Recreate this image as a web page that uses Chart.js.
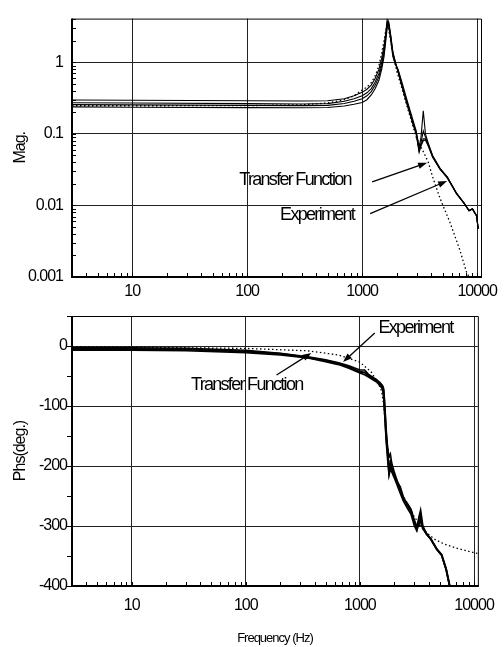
<!DOCTYPE html>
<html>
<head>
<meta charset="utf-8">
<script src="https://cdn.jsdelivr.net/npm/chart.js@4/dist/chart.umd.min.js"></script>
<style>
  html, body { margin: 0; padding: 0; background: #fff; }
  body { width: 504px; height: 647px; position: relative; overflow: hidden; }
  .box { position: absolute; left: 0; }
</style>
</head>
<body>
<div class="box" style="top:0"><canvas id="magChart" width="504" height="300"></canvas></div>
<div class="box" style="top:300px"><canvas id="phsChart" width="504" height="347"></canvas></div>
<script>
// Bode plot: magnitude (top) and phase (bottom), experiment vs transfer function

const FONT = "'Liberation Sans', Arial, sans-serif";

// tick labels
const freqTicks = [10, 100, 1000, 10000];
const magTicks = [0.001, 0.01, 0.1, 1];
const phsTicks = [-400, -300, -200, -100, 0];

// magnitude, experiment (four runs share the same frequencies)
const magFreq = [3, 10, 100, 300, 500, 700, 850, 1000, 1100, 1200, 1300, 1400, 1480, 1550, 1600, 1650, 1700, 1760, 1850, 1950,
    2050, 2200, 2450, 2750, 2950, 3130, 3250, 3400, 3550, 3750, 4100, 4750, 5500, 6600, 7700, 8500, 9100, 9500, 9900, 10200];
const magExp1 = [0.298, 0.295, 0.29, 0.288, 0.29, 0.31, 0.34, 0.38, 0.42, 0.48, 0.6, 0.8, 1.15, 1.7, 2.5, 3.9, 3.2, 2.2, 1.2, 0.92,
    0.8, 0.55, 0.3, 0.16, 0.11, 0.065, 0.09, 0.21, 0.1, 0.075, 0.05, 0.033, 0.025, 0.015, 0.0108, 0.0085, 0.009, 0.008, 0.0072, 0.0047];
const magExp2 = [0.272, 0.27, 0.265, 0.262, 0.265, 0.285, 0.31, 0.34, 0.375, 0.43, 0.53, 0.7, 1.0, 1.5, 2.3, 3.6, 3.4, 2.4, 1.3, 0.95,
    0.78, 0.52, 0.28, 0.15, 0.105, 0.06, 0.075, 0.11, 0.09, 0.072, 0.049, 0.033, 0.025, 0.0148, 0.0108, 0.0085, 0.009, 0.008, 0.0072, 0.0047];
const magExp3 = [0.256, 0.254, 0.25, 0.248, 0.25, 0.265, 0.285, 0.31, 0.34, 0.39, 0.48, 0.63, 0.9, 1.35, 2.1, 3.3, 3.5, 2.5, 1.35, 0.98,
    0.75, 0.5, 0.27, 0.145, 0.1, 0.058, 0.07, 0.085, 0.085, 0.07, 0.048, 0.032, 0.025, 0.0147, 0.0107, 0.0084, 0.0089, 0.0079, 0.0071, 0.0047];
const magExp4 = [0.238, 0.236, 0.233, 0.232, 0.234, 0.245, 0.26, 0.275, 0.3, 0.35, 0.43, 0.56, 0.8, 1.2, 1.9, 3.0, 3.7, 2.6, 1.4, 1.0,
    0.73, 0.48, 0.26, 0.14, 0.1, 0.055, 0.068, 0.08, 0.082, 0.068, 0.047, 0.032, 0.024, 0.0146, 0.0107, 0.0084, 0.0089, 0.0079, 0.0071, 0.0047];

// magnitude, transfer function
const tfMagFreq = [3, 10, 100, 300, 500, 700, 850, 1000, 1100, 1200, 1300, 1400, 1480, 1550, 1600, 1650, 1700, 1760, 1850, 2000,
    2200, 2500, 2950, 3530, 3760, 4100, 4760, 5800, 7000, 8180, 8600];
const tfMag = [0.247, 0.247, 0.248, 0.255, 0.27, 0.3, 0.34, 0.41, 0.45, 0.52, 0.65, 0.9, 1.35, 2.0, 2.7, 3.3, 2.9, 2.1, 1.3, 0.75,
    0.45, 0.22, 0.09, 0.05, 0.04, 0.025, 0.0125, 0.0058, 0.0025, 0.0011, 0.001];

// phase, experiment (three runs)
const phsFreq = [3, 10, 30, 100, 200, 350, 500, 650, 800, 1000, 1100, 1200, 1400, 1500, 1580, 1620, 1660, 1700, 1750, 1800, 1850,
    1900, 2000, 2100, 2250, 2400, 2600, 2800, 3000, 3150, 3300, 3400, 3550, 3800, 4200, 4700, 5200, 5700, 6200];
const phsExp1 = [-5, -5, -6, -9, -13, -19, -24, -29, -35, -43, -44, -50, -58, -63, -68, -80, -115, -150, -178, -210, -195,
    -205, -215, -225, -235, -252, -265, -275, -295, -305, -285, -275, -300, -312, -322, -338, -348, -372, -405];
const phsExp2 = [-3, -3, -4, -7, -12, -18, -23, -28, -33, -40, -40, -48, -56, -61, -66, -72, -105, -140, -170, -185, -180,
    -195, -210, -222, -240, -255, -262, -272, -290, -300, -300, -290, -305, -312, -322, -338, -348, -372, -405];
const phsExp3 = [-7, -7, -8, -11, -15, -20, -26, -31, -37, -45, -48, -52, -60, -66, -72, -90, -125, -160, -190, -215, -205,
    -210, -220, -230, -245, -258, -270, -280, -300, -308, -295, -285, -302, -313, -323, -339, -349, -373, -406];

// phase, transfer function
const tfPhsFreq = [3, 10, 100, 350, 650, 1000, 1250, 1430, 1550, 1620, 1700, 1800, 2000, 2300, 2610, 3000, 3500, 3880, 4500,
    5460, 7000, 9300, 10800];
const tfPhs = [-1, -2, -4, -8, -15, -27, -43, -60, -75, -100, -150, -185, -215, -245, -262, -285, -302, -312, -322,
    -330, -337, -343, -346];

// annotations (data coordinates)
const magNotes = [
    { text: 'Transfer Function', x: 261, y: 0.0227 },
    { text: 'Experiment', x: 406, y: 0.00745 }
];
const magArrows = [
    { from: [1222, 0.0213], to: [3670, 0.0395] },
    { from: [1174, 0.0077], to: [5480, 0.022] }
];
const phsNotes = [
    { text: 'Experiment', x: 3070, y: 30 },
    { text: 'Transfer Function', x: 102, y: -65 }
];
const phsArrows = [
    { from: [1349, 21.7], to: [711, -26.7] },
    { from: [186, -48.3], to: [375, -11.7] }
];

Chart.defaults.font.family = FONT;
Chart.defaults.color = '#000';

function pts(xs, ys) {
    return xs.map((x, i) => ({ x: x, y: ys[i] }));
}

function expLine(xs, ys, w) {
    return { data: pts(xs, ys), borderColor: '#000', borderWidth: w, pointRadius: 0, tension: 0 };
}

function tfLine(xs, ys) {
    return { data: pts(xs, ys), borderColor: '#000', borderWidth: 1.3, borderDash: [1.5, 2.5], pointRadius: 0, tension: 0 };
}

function logMinor(min, max) {
    const out = [];
    for (let d = -4; d <= 5; d++) {
        for (let m = 1; m <= 9; m++) {
            const v = m * Math.pow(10, d);
            if (v >= min && v <= max) out.push(v);
        }
    }
    return out;
}

function drawArrow(ctx, x1, y1, x2, y2) {
    const a = Math.atan2(y2 - y1, x2 - x1);
    const len = 9, hw = 3.2;
    ctx.beginPath();
    ctx.moveTo(x1, y1);
    ctx.lineTo(x2 - Math.cos(a) * len * 0.8, y2 - Math.sin(a) * len * 0.8);
    ctx.lineWidth = 1.3;
    ctx.strokeStyle = '#000';
    ctx.stroke();
    ctx.beginPath();
    ctx.moveTo(x2, y2);
    ctx.lineTo(x2 - Math.cos(a) * len - Math.sin(a) * hw, y2 - Math.sin(a) * len + Math.cos(a) * hw);
    ctx.lineTo(x2 - Math.cos(a) * len + Math.sin(a) * hw, y2 - Math.sin(a) * len - Math.cos(a) * hw);
    ctx.closePath();
    ctx.fillStyle = '#000';
    ctx.fill();
}

// condensed look for the library's own labels
const tightText = {
    id: 'tightText',
    beforeUpdate(chart) { chart.ctx.letterSpacing = '-1px'; },
    beforeDraw(chart) { chart.ctx.letterSpacing = '-1px'; }
};

// frame, inward/outward tick marks, notes and arrows
const framePlugin = {
    id: 'frame',
    afterDatasetsDraw(chart, args, opts) {
        const ctx = chart.ctx;
        const { left, right, top, bottom } = chart.chartArea;
        const xs = chart.scales.x, ys = chart.scales.y;
        ctx.save();
        ctx.strokeStyle = '#000';

        // x ticks, inward from bottom
        ctx.lineWidth = 1;
        ctx.beginPath();
        logMinor(xs.min, xs.max).forEach(v => {
            const px = Math.round(xs.getPixelForValue(v)) + 0.5;
            ctx.moveTo(px, bottom);
            ctx.lineTo(px, bottom - 4);
        });
        ctx.stroke();

        // y ticks
        ctx.beginPath();
        opts.yMinor.forEach(v => {
            const py = Math.round(ys.getPixelForValue(v)) + 0.5;
            if (opts.yOut) {
                ctx.moveTo(left, py);
                ctx.lineTo(left - 5, py);
            } else {
                ctx.moveTo(left, py);
                ctx.lineTo(left + 4, py);
            }
        });
        ctx.stroke();

        // frame: heavy left/bottom, light top/right
        ctx.lineWidth = 1;
        ctx.beginPath();
        ctx.moveTo(left, top + 0.5);
        ctx.lineTo(right + 0.5, top + 0.5);
        ctx.lineTo(right + 0.5, bottom);
        ctx.stroke();
        ctx.lineWidth = 2;
        ctx.beginPath();
        ctx.moveTo(left, top);
        ctx.lineTo(left, bottom);
        ctx.lineTo(right + 1, bottom);
        ctx.stroke();

        // notes
        ctx.font = '18px ' + FONT;
        ctx.letterSpacing = '-1.7px';
        ctx.fillStyle = '#000';
        ctx.textAlign = 'center';
        ctx.textBaseline = 'middle';
        opts.notes.forEach(n => {
            ctx.fillText(n.text, xs.getPixelForValue(n.x), ys.getPixelForValue(n.y));
        });
        opts.arrows.forEach(a => {
            drawArrow(ctx,
                xs.getPixelForValue(a.from[0]), ys.getPixelForValue(a.from[1]),
                xs.getPixelForValue(a.to[0]), ys.getPixelForValue(a.to[1]));
        });
        ctx.restore();
    }
};

function freqAxis(height, pad, withTitle) {
    return {
        type: 'logarithmic',
        min: 3,
        max: 10800,
        afterBuildTicks: s => { s.ticks = freqTicks.map(v => ({ value: v })); },
        afterFit: s => { s.height = height; },
        ticks: { font: { size: 16 }, padding: pad, maxRotation: 0, autoSkip: false, callback: v => String(v) },
        grid: { color: '#222', lineWidth: 1, drawTicks: false },
        border: { display: false },
        title: withTitle
            ? { display: true, text: 'Frequency (Hz)', font: { size: 13 }, padding: { top: 0, bottom: 1 } }
            : { display: false }
    };
}

new Chart(document.getElementById('magChart'), {
    type: 'line',
    data: {
        datasets: [
            expLine(magFreq, magExp1, 1.1),
            expLine(magFreq, magExp2, 1.1),
            expLine(magFreq, magExp3, 1.1),
            expLine(magFreq, magExp4, 1.1),
            tfLine(tfMagFreq, tfMag)
        ]
    },
    options: {
        responsive: false,
        animation: false,
        devicePixelRatio: 1,
        layout: { padding: { left: 0, top: 8, right: 23, bottom: 0 } },
        plugins: {
            legend: { display: false },
            tooltip: { enabled: false },
            frame: { yMinor: logMinor(0.001, 4.08), yOut: false, notes: magNotes, arrows: magArrows }
        },
        scales: {
            x: freqAxis(23, 5, false),
            y: {
                type: 'logarithmic',
                min: 0.001,
                max: 4.08,
                afterBuildTicks: s => { s.ticks = magTicks.map(v => ({ value: v })); },
                afterFit: s => { s.width = 72; },
                ticks: { font: { size: 16 }, padding: 9, autoSkip: false, callback: v => String(v) },
                grid: { color: '#222', lineWidth: 1, drawTicks: false },
                border: { display: false },
                title: { display: true, text: 'Mag.', font: { size: 16 }, padding: { top: 11, bottom: 0 } }
            }
        }
    },
    plugins: [tightText, framePlugin]
});

new Chart(document.getElementById('phsChart'), {
    type: 'line',
    data: {
        datasets: [
            expLine(phsFreq, phsExp1, 2),
            expLine(phsFreq, phsExp2, 1.6),
            expLine(phsFreq, phsExp3, 1.6),
            tfLine(tfPhsFreq, tfPhs)
        ]
    },
    options: {
        responsive: false,
        animation: false,
        devicePixelRatio: 1,
        layout: { padding: { left: 0, top: 16, right: 23, bottom: 0 } },
        plugins: {
            legend: { display: false },
            tooltip: { enabled: false },
            frame: { yMinor: [-400, -350, -300, -250, -200, -150, -100, -50, 0, 50], yOut: true, notes: phsNotes, arrows: phsArrows }
        },
        scales: {
            x: freqAxis(61, 10, true),
            y: {
                type: 'linear',
                min: -400,
                max: 50,
                afterBuildTicks: s => { s.ticks = phsTicks.map(v => ({ value: v })); },
                afterFit: s => { s.width = 72; },
                ticks: { font: { size: 16 }, padding: 5, autoSkip: false, callback: v => String(v) },
                grid: { color: '#222', lineWidth: 1, drawTicks: false },
                border: { display: false },
                title: { display: true, text: 'Phs(deg.)', font: { size: 16 }, padding: { top: 11, bottom: 0 } }
            }
        }
    },
    plugins: [tightText, framePlugin]
});
</script>
</body>
</html>
